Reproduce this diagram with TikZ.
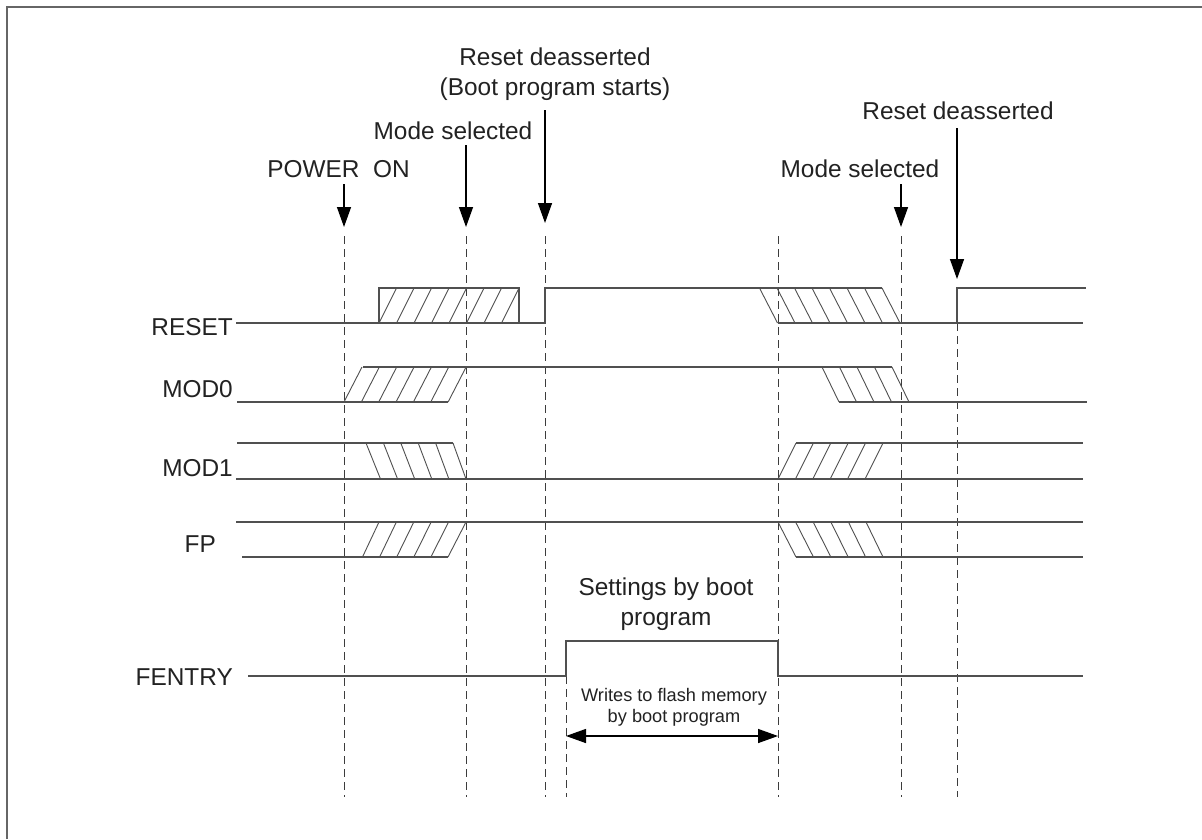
\documentclass[tikz,border=0pt]{standalone}
\usepackage{fontspec}
\setmainfont{Liberation Sans}
\usetikzlibrary{arrows.meta}
\definecolor{sigc}{HTML}{505050}
\definecolor{dashc}{HTML}{3C3C3C}
\definecolor{txtc}{HTML}{222222}
\definecolor{framec}{HTML}{666666}
\begin{document}
\begin{tikzpicture}[x=1pt,y=-1pt,
  sig/.style={line width=1.2pt, draw=sigc},
  hatch/.style={line width=0.9pt, draw=sigc},
  guide/.style={line width=1pt, draw=dashc, dash pattern=on 8pt off 5pt},
  lbl/.style={font=\fontsize{24.4}{30}\selectfont, text=txtc, inner sep=0pt, anchor=base},
  sigl/.style={font=\fontsize{24.4}{30}\selectfont, text=txtc, inner sep=0pt, anchor=base east},
  small/.style={font=\fontsize{18.2}{22}\selectfont, text=txtc, inner sep=0pt, anchor=base},
  arr/.style={line width=1.4pt, draw=black, -{Triangle[length=20pt,width=14pt]}},
  dbl/.style={line width=1.4pt, draw=black, {Triangle[length=20pt,width=14pt]}-{Triangle[length=20pt,width=14pt]}},
  framel/.style={line width=2pt, draw=framec}]
\useasboundingbox (0,0) rectangle (1202,839);
\fill[white] (0,0) rectangle (1202,839);
\draw[framel] (7,839) -- (7,7) -- (1202,7);

% ---------- event labels ----------
\node[lbl] (pow) at (338.5,177) {POWER\ \ ON};
\node[lbl] (modeL) at (453,139) {Mode selected};
\node[lbl] (rstL1) at (555,65) {Reset deasserted};
\node[lbl] (rstL2) at (555,95) {(Boot program starts)};
\node[lbl] (modeR) at (860,177) {Mode selected};
\node[lbl] (rstR) at (958,119) {Reset deasserted};

% arrow coordinates
\coordinate (a1s) at (344,184); \coordinate (a1e) at (344,227);
\coordinate (a2s) at (466,145); \coordinate (a2e) at (466,227);
\coordinate (a3s) at (545,110); \coordinate (a3e) at (545,223);
\coordinate (a4s) at (901,184); \coordinate (a4e) at (901,227);
\coordinate (a5s) at (957,128); \coordinate (a5e) at (957,279);
\draw[arr] (a1s) -- (a1e);
\draw[arr] (a2s) -- (a2e);
\draw[arr] (a3s) -- (a3e);
\draw[arr] (a4s) -- (a4e);
\draw[arr] (a5s) -- (a5e);

% ---------- dashed guide lines ----------
\coordinate (g1t) at (344,236); \coordinate (g1b) at (344,797);
\coordinate (g2t) at (466,236); \coordinate (g2b) at (466,797);
\coordinate (g3t) at (545,236); \coordinate (g3b) at (545,797);
\coordinate (g4t) at (566,676); \coordinate (g4b) at (566,797);
\coordinate (g5t) at (778,236); \coordinate (g5b) at (778,797);
\coordinate (g6t) at (901,236); \coordinate (g6b) at (901,797);
\coordinate (g7t) at (957,323); \coordinate (g7b) at (957,797);
\foreach \i in {1,...,7} { \draw[guide] (g\i t) -- (g\i b); }

% ---------- signal labels ----------
\node[sigl] (lreset) at (233,335) {RESET};
\node[sigl] (lmod0) at (233,397) {MOD0};
\node[sigl] (lmod1) at (233,476) {MOD1};
\node[sigl] (lfp) at (216,552) {FP};
\node[sigl] (lfentry) at (233,685) {FENTRY};

% ---------- RESET ----------
\draw[sig] (236,323) -- (545,323) -- (545,288) -- (882,288);
\draw[sig] (379,323) -- (379,288) -- (519,288) -- (519,323);
\foreach \k in {0,...,7} { \draw[hatch] (379+17.5*\k,323) -- (396.5+17.5*\k,288); }
\draw[sig] (778,323) -- (1083,323);
\foreach \k in {0,...,7} { \draw[hatch] (759.5+17.5*\k,288) -- (777.5+17.5*\k,323); }
\draw[sig] (957,323) -- (957,288) -- (1086,288);

% ---------- MOD0 ----------
\draw[sig] (237,402) -- (448,402);
\draw[sig] (363,367) -- (892,367);
\foreach \k in {0,...,6} { \draw[hatch] (344+17.35*\k,402) -- (362+17.35*\k,367); }
\draw[sig] (839,402) -- (1087,402);
\foreach \k in {0,...,4} { \draw[hatch] (822+17.5*\k,367) -- (839+17.5*\k,402); }

% ---------- MOD1 ----------
\draw[sig] (237,443) -- (453,443);
\draw[sig] (236,479) -- (1083,479);
\foreach \k in {0,...,5} { \draw[hatch] (366+17.4*\k,443) -- (380.5+17.1*\k,479); }
\draw[sig] (796,443) -- (1083,443);
\foreach \k in {0,...,5} { \draw[hatch] (778+17.4*\k,479) -- (796+17.4*\k,443); }

% ---------- FP ----------
\draw[sig] (236,522) -- (1083,522);
\draw[sig] (242,557) -- (448,557);
\foreach \k in {0,...,5} { \draw[hatch] (362.5+17.1*\k,557) -- (379+17.4*\k,522); }
\draw[sig] (796,557) -- (1083,557);
\foreach \k in {0,...,5} { \draw[hatch] (778+17.6*\k,522) -- (796+17.4*\k,557); }

% ---------- FENTRY ----------
\draw[sig] (248,676) -- (566,676) -- (566,641) -- (778,641) -- (778,676) -- (1083,676);
\node[lbl] (set1) at (666,595) {Settings by boot};
\node[lbl] (set2) at (666,625) {program};
\node[small] (wr1) at (674,701) {Writes to flash memory};
\node[small] (wr2) at (674,722) {by boot program};
\coordinate (d1) at (566,736); \coordinate (d2) at (778,736);
\draw[dbl] (d1) -- (d2);
\end{tikzpicture}
\end{document}
